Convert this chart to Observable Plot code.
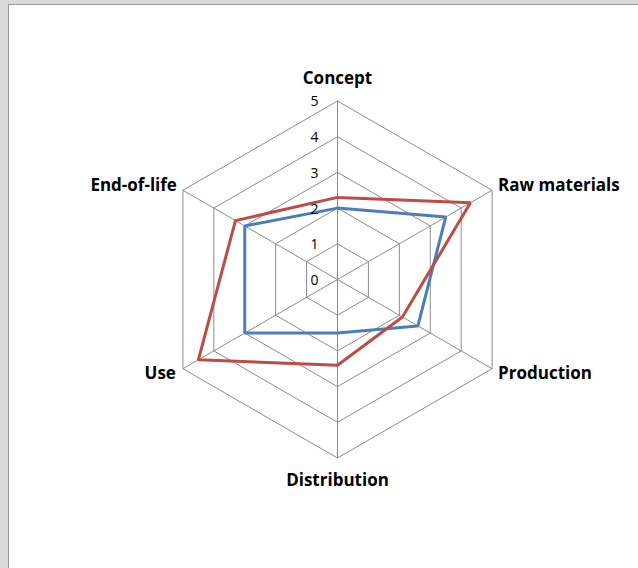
<!DOCTYPE html>
<html>
<head>
<meta charset="utf-8">
<script src="https://cdn.jsdelivr.net/npm/d3@7"></script>
<script src="https://cdn.jsdelivr.net/npm/@observablehq/plot@0.6"></script>
<style>
  html, body { margin: 0; padding: 0; background: #d9d9d9; width: 638px; height: 568px; overflow: hidden; }
  #panel { position: absolute; left: 8px; top: 4px; right: 0; bottom: 0; background: #ffffff;
           border-left: 1px solid #9a9a9a; border-top: 1px solid #9a9a9a; }
  #chart { position: absolute; left: 0; top: 0; }
</style>
</head>
<body>
<div id="panel"></div>
<div id="chart"></div>
<script>
const categories = ["Concept", "Raw materials", "Production", "Distribution", "Use", "End-of-life"];
const seriesNames = ["Series 1", "Series 2"];
const series1 = [2.0, 3.5, 2.6, 1.5, 3.0, 3.0];
const series2 = [2.3, 4.3, 2.1, 2.4, 4.5, 3.3];
const tickValues = [0, 1, 2, 3, 4, 5];
const colors = ["#4a7ebb", "#be4b48"];

const W = 638, H = 568;
const unit = 35.7;          // px per value unit
const cx = 337, cy = 279;   // center in px
const maxV = 5;

const n = categories.length;
const ang = i => (i * 2 * Math.PI) / n;
const px = (i, r) => r * Math.sin(ang(i));
const py = (i, r) => r * Math.cos(ang(i));

const rings = [];
for (const t of tickValues.filter(t => t > 0)) {
  for (let i = 0; i <= n; i++) rings.push({level: t, x: px(i % n, t), y: py(i % n, t)});
}
const spokes = categories.map((c, i) => ({x1: 0, y1: 0, x2: px(i, maxV), y2: py(i, maxV)}));

const seriesData = [];
[series1, series2].forEach((vals, s) => {
  for (let i = 0; i <= n; i++) {
    const k = i % n;
    seriesData.push({series: seriesNames[s], x: px(k, vals[k]), y: py(k, vals[k])});
  }
});

const labels = categories.map((c, i) => ({label: c, i, x: px(i, maxV), y: py(i, maxV)}));
// per-label placement: [textAnchor, dx, dy]
const place = [["middle", 0, -22], ["start", 6, -5], ["start", 6, 5], ["middle", 0, 23], ["end", -7, 5], ["end", -6, -5]];

const ticks = tickValues.map(t => ({t, x: 0, y: t}));

const font = "'Open Sans', sans-serif";

const labelMarks = labels.map(d => Plot.text([d], {
  x: "x", y: "y", text: "label",
  textAnchor: place[d.i][0], dx: place[d.i][1], dy: place[d.i][2],
  fontSize: 17, fontWeight: "bold", fill: "#000"
}));

const plot = Plot.plot({
  width: W,
  height: H,
  margin: 0,
  x: {domain: [-cx / unit, (W - cx) / unit], axis: null},
  y: {domain: [-(H - cy) / unit, cy / unit], axis: null},
  color: {domain: seriesNames, range: colors},
  style: {background: "transparent", fontFamily: font},
  marks: [
    Plot.line(rings, {x: "x", y: "y", z: "level", stroke: "#8c8c8c", strokeWidth: 1}),
    Plot.link(spokes, {x1: "x1", y1: "y1", x2: "x2", y2: "y2", stroke: "#8c8c8c", strokeWidth: 1}),
    Plot.line(seriesData, {x: "x", y: "y", z: "series", stroke: "series", strokeWidth: 3, strokeLinejoin: "miter"}),
    Plot.text(ticks, {x: "x", y: "y", text: d => String(d.t), textAnchor: "end", dx: -19, dy: 1, fontSize: 14, fill: "#000"}),
    ...labelMarks
  ]
});
document.getElementById("chart").appendChild(plot);
</script>
</body>
</html>
